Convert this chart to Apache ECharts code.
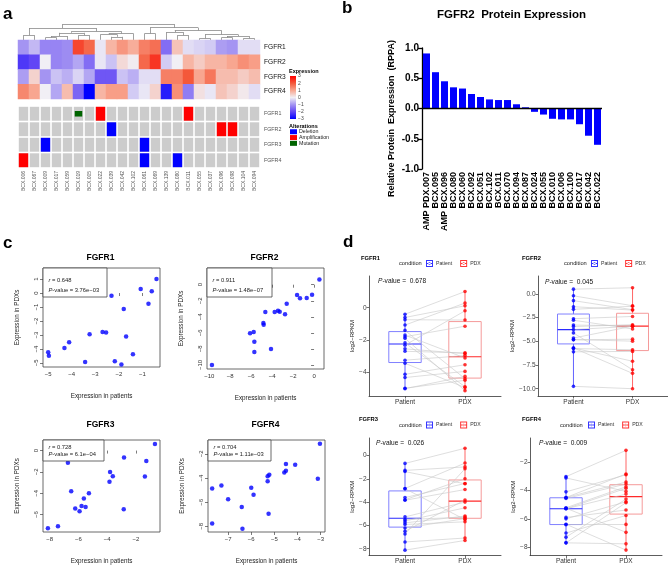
<!DOCTYPE html>
<html><head><meta charset="utf-8">
<script src="https://cdn.jsdelivr.net/npm/echarts@6/dist/echarts.min.js"></script>
<style>html,body{margin:0;padding:0;background:#fff}#c{width:668px;height:565px}</style>
</head><body><div id="c"></div>
<script>
// ---------------- DATA ----------------
// panel a: heatmap
const heatSamples = ['BCX.006','BCX.067','BCX.009','BCX.017','BCX.059','BCX.019','BCX.005','BCX.022','BCX.039','BCX.042','BCX.102','BCX.061','BCX.069','BCX.139','BCX.080','BCX.011','BCX.055','BCX.037','BCX.096','BCX.098','BCX.104','BCX.094'];
const genes = ['FGFR1','FGFR2','FGFR3','FGFR4'];
const exprFGFR1 = [-1.0,-0.6,-1.2,-1.2,-1.1,2.2,1.8,-0.1,0.8,1.2,0.9,1.5,1.7,-1.5,0.6,-0.2,-0.3,-0.4,-0.9,-1.0,-0.2,-0.2];
const exprFGFR2 = [-2.2,-2.0,0.0,-1.2,-1.1,-0.8,-1.5,-0.1,-0.5,0.3,0.05,1.8,2.4,-0.4,0.0,0.8,0.5,0.8,0.8,1.0,1.3,1.1];
const exprFGFR3 = [-0.9,0.4,-1.0,-0.5,-0.7,-0.3,-0.8,-1.8,-1.8,-0.5,-0.7,-0.2,-0.2,1.5,1.5,2.0,1.0,1.6,0.7,0.7,0.5,0.7];
const exprFGFR4 = [1.4,1.0,0.0,-0.8,0.7,-1.6,-3.0,0.8,1.1,1.1,-0.4,-0.1,0.4,-2.6,1.3,-1.3,0.2,-0.1,0.6,0.4,0.1,-0.2];
// alteration codes: 0 none, 1 deletion, 2 amplification, 3 mutation
const altFGFR1 = [0,0,0,0,0,3,0,2,0,0,0,0,0,0,0,2,0,0,0,0,0,0];
const altFGFR2 = [0,0,0,0,0,0,0,0,1,0,0,0,0,0,0,0,0,0,2,2,0,0];
const altFGFR3 = [0,0,1,0,0,0,0,0,0,0,0,1,0,0,0,0,0,0,0,0,0,0];
const altFGFR4 = [2,0,0,0,0,0,0,0,0,0,0,1,0,0,1,0,0,0,0,0,0,0];
const altNames = ['Deletion','Amplification','Mutation'];
const exprTicks = [-3,-2,-1,0,1,2,3];
// column dendrogram merges: [left, right, height]; negative = leaf (1-based), positive = earlier merge
const dendroMerges = [
  [-1,-2,3.0],[-3,-4,1.5],[2,-5,2.5],[-6,-7,3.0],[3,4,4.5],[-9,-10,2.0],[-8,6,3.5],[7,-11,4.0],
  [5,8,5.5],[1,9,7.5],[-12,-13,4.0],[-15,-16,3.0],[-14,12,5.0],[-17,-18,1.0],[-19,-20,1.5],
  [-21,-22,1.0],[15,16,2.5],[14,17,3.5],[13,18,6.0],[11,19,7.7],[10,20,10]
];
// panel b
const barCats = ['AMP PDX.007','BCX.095','AMP BCX.096','BCX.080','BCX.060','BCX.092','BCX.051','BCX.102','BCX.011','BCX.070','BCX.094','BCX.087','BCX.024','BCX.055','BCX.010','BCX.006','BCX.100','BCX.017','BCX.042','BCX.022'];
const barVals = [0.91,0.60,0.45,0.35,0.33,0.24,0.19,0.15,0.14,0.14,0.07,0.02,-0.055,-0.10,-0.17,-0.18,-0.18,-0.26,-0.45,-0.60];
const barTicks = [-1,-0.5,0,0.5,1];
// panels c & d (patient vs PDX expression, paired by index)
const patFGFR1 = [-0.4,-1.07,-0.6,-2.31,-0.74,-1.79,-3.24,-2.69,-2.54,-1.69,-4.11,-4.31,-5.0,-4.97,-3.43,-2.17,-1.4,-1.89];
const pdxFGFR1 = [1.0,0.29,0.12,-0.19,-0.76,-1.14,-2.95,-2.79,-2.83,-3.1,-3.52,-3.93,-4.24,-4.48,-4.93,-4.88,-4.38,-5.12];
const patFGFR2 = [0.51,-1.62,-1.34,-0.7,-0.19,-2.61,-3.76,-3.44,-3.28,-2.77,-4.65,-4.84,-4.81,-6.11,-5.76,-5.7,-5.7,-4.11,-9.75];
const pdxFGFR2 = [0.66,-1.29,-1.7,-1.66,-1.24,-2.37,-3.4,-3.24,-3.36,-3.69,-3.4,-4.77,-4.98,-6.06,-5.89,-7.1,-8.38,-8.0,-10.0];
const patFGFR3 = [-0.68,-2.83,-1.28,-6.73,-3.8,-3.61,-3.84,-1.38,-6.5,-5.27,-5.62,-6.22,-5.78,-5.5,-5.92,-2.85,-7.42,-8.12];
const pdxFGFR3 = [0.62,-0.65,-0.98,-1.14,-2.0,-2.4,-2.92,-2.43,-3.82,-4.0,-4.49,-5.42,-5.2,-5.29,-5.69,-5.5,-7.08,-7.29];
const patFGFR4 = [-3.03,-4.1,-4.5,-3.12,-4.5,-4.57,-5.22,-5.29,-5.29,-6.0,-5.9,-7.29,-7.69,-7.0,-6.41,-5.25,-7.69,-6.38];
const pdxFGFR4 = [-1.18,-2.9,-2.84,-4.07,-3.41,-3.55,-3.74,-3.85,-4.26,-4.8,-5.38,-4.61,-4.86,-5.76,-6.39,-6.95,-7.76,-8.2];
const corrR = ['0.648','0.911','0.728','0.704'];
const corrP = ['3.76e\u221203','1.48e\u221207','6.1e\u221204','1.11e\u221203'];
const pairP = ['0.678','0.045','0.026','0.009'];
const scXTicks = [[-5,-4,-3,-2,-1],[-10,-8,-6,-4,-2,0],[-8,-6,-4,-2],[-7,-6,-5,-4,-3]];
const scYTicks = [[-5,-4,-3,-2,-1,0,1],[-10,-8,-6,-4,-2,0],[-6,-4,-2,0],[-8,-6,-4,-2]];
const bxYTicks = [[-4,-2,0],[-10,-7.5,-5,-2.5,0],[-8,-6,-4,-2,0],[-8,-6,-4,-2]];
const conditions = ['Patient','PDX'];

// ---------------- LAYOUT / HELPERS ----------------
const FF = "'Liberation Sans', Arial, Helvetica, sans-serif";
const heatPalette = ['#0000ff','#6246f5','#a494f2','#f1eff5','#f8a690','#f4583a','#ff0000'];
const M = v => (v < 0 ? '\u2212' + String(-v) : String(v));
const grid = [], xAxis = [], yAxis = [], series = [], graphic = [], legend = [];
function addS(s){ series.push(Object.assign({animation:false, silent:true}, s)); return series.length - 1; }
function T(x, y, text, o){
  o = o || {};
  graphic.push({type:'text', x:x, y:y, silent:true, z:100, style:{text:text, fontFamily:FF, fontSize:o.size||7,
    fontWeight:o.bold?'bold':'normal', fill:o.color||'#000', align:o.align||'left', verticalAlign:'middle',
    rich:{i:{fontStyle:'italic', fontSize:o.size||7, fontFamily:FF, fill:o.color||'#000'}}}});
}
const noAxis = {axisLine:{show:false}, axisTick:{show:false}, splitLine:{show:false}};

// ---- panel a : dendrogram (grid 0)
grid.push({left:18, top:24, width:242, height:16});
xAxis.push(Object.assign({gridIndex:0, type:'value', min:0.5, max:22.5, axisLabel:{show:false}}, noAxis));
yAxis.push(Object.assign({gridIndex:0, type:'value', min:0, max:10, axisLabel:{show:false}}, noAxis));
(function(){
  const nodes = [], segs = [];
  const get = r => r < 0 ? {x:-r, h:0} : nodes[r-1];
  dendroMerges.forEach(([a,b,h]) => {
    const A = get(a), B = get(b);
    segs.push({coords:[[A.x,A.h],[A.x,h]]},{coords:[[B.x,B.h],[B.x,h]]},{coords:[[A.x,h],[B.x,h]]});
    nodes.push({x:(A.x+B.x)/2, h:h});
  });
  addS({type:'lines', coordinateSystem:'cartesian2d', xAxisIndex:0, yAxisIndex:0, polyline:false, data:segs,
    lineStyle:{color:'#8a8a8a', width:0.8, opacity:1}});
})();

// ---- heatmap (grid 1)
grid.push({left:18, top:40, width:242, height:59});
xAxis.push(Object.assign({gridIndex:1, type:'category', data:heatSamples, axisLabel:{show:false}}, noAxis));
yAxis.push(Object.assign({gridIndex:1, type:'category', data:genes, inverse:true, position:'right',
  axisLabel:{fontSize:6.6, color:'#111', margin:4, fontFamily:FF}}, noAxis));
const exprRows = [exprFGFR1, exprFGFR2, exprFGFR3, exprFGFR4];
const heatData = [];
exprRows.forEach((row, r) => row.forEach((v, c) => heatData.push([c, r, v])));
const heatIdx = addS({type:'heatmap', xAxisIndex:1, yAxisIndex:1, data:heatData, itemStyle:{borderWidth:0}});

// ---- alterations (grid 2)
grid.push({left:18, top:106, width:242, height:62});
xAxis.push(Object.assign({gridIndex:2, type:'category', data:heatSamples,
  axisLabel:{rotate:90, fontSize:5, color:'#555', margin:3, interval:0, fontFamily:FF}}, noAxis));
yAxis.push(Object.assign({gridIndex:2, type:'category', data:genes, inverse:true, position:'right',
  axisLabel:{fontSize:5.3, color:'#555', margin:4, fontFamily:FF}}, noAxis));
const altRows = [altFGFR1, altFGFR2, altFGFR3, altFGFR4];
const baseData = [], typeData = {1:[],2:[],3:[]};
altRows.forEach((row, r) => row.forEach((v, c) => { baseData.push([c, r]); if (v) typeData[v].push([c, r]); }));
function cellRender(fw, fh){
  return function(params, api){
    const c = api.coord([api.value(0), api.value(1)]);
    const s = api.size([1, 1]);
    const w = (s[0] - 1.6) * fw, h = (s[1] - 1.6) * fh;
    return {type:'rect', shape:{x:c[0]-w/2, y:c[1]-h/2, width:w, height:h}, style:{fill:api.visual('color')}};
  };
}
addS({type:'custom', name:'none', xAxisIndex:2, yAxisIndex:2, data:baseData, renderItem:cellRender(1,1), itemStyle:{color:'#cccccc'}, encode:{x:0,y:1}});
const altColors = ['#0000ff','#ff0000','#006400'];
altNames.forEach((n, k) => {
  addS({type:'custom', name:n, xAxisIndex:2, yAxisIndex:2, data:typeData[k+1],
    renderItem: k === 2 ? cellRender(0.8, 0.4) : cellRender(1,1), itemStyle:{color:altColors[k]}, encode:{x:0,y:1}});
});
legend.push({left:290, top:129, padding:0, orient:'vertical', data:altNames, icon:'rect', itemWidth:7, itemHeight:5, itemGap:0.3,
  selectedMode:false, textStyle:{fontSize:5.3, color:'#222', fontFamily:FF, padding:[0,0,0,-3], lineHeight:5.5}});

// ---- colour bar (grid 3)
grid.push({left:290, top:76, width:6, height:43});
xAxis.push(Object.assign({gridIndex:3, type:'category', data:[''], axisLabel:{show:false}}, noAxis));
yAxis.push(Object.assign({gridIndex:3, type:'value', min:-3, max:3, interval:1, position:'right',
  axisLabel:{fontSize:5, color:'#444', margin:2, formatter:M, fontFamily:FF}}, noAxis));
addS({type:'custom', xAxisIndex:3, yAxisIndex:3, data:[[0, 0]], renderItem:function(params){
  const cs = params.coordSys;
  const stops = heatPalette.slice().reverse().map((c, i, arr) => ({offset:i/(arr.length-1), color:c}));
  return {type:'rect', shape:{x:cs.x, y:cs.y, width:cs.width, height:cs.height},
    style:{fill:new echarts.graphic.LinearGradient(0,0,0,1,stops)}};
}});

// ---- panel b (grid 4)
grid.push({left:422, top:48, width:180, height:121});
xAxis.push({gridIndex:4, type:'category', data:barCats, axisLine:{show:false, onZero:false}, axisTick:{show:false},
  splitLine:{show:false}, axisLabel:{rotate:90, fontSize:9, fontWeight:'bold', color:'#000', margin:3, interval:0, fontFamily:FF}});
yAxis.push({gridIndex:4, type:'value', min:-1, max:1, interval:0.5, splitLine:{show:false},
  axisLine:{show:true, lineStyle:{color:'#000', width:1.3}}, axisTick:{show:true, length:4, lineStyle:{color:'#000', width:1.3}},
  axisLabel:{fontSize:10, fontWeight:'bold', color:'#000', margin:3, formatter:v => v.toFixed(1), fontFamily:FF},
  name:'Relative Protein  Expression  (RPPA)', nameLocation:'middle', nameGap:26,
  nameTextStyle:{fontSize:9, fontWeight:'bold', color:'#000', fontFamily:FF, padding:[0,20,0,0]}});
addS({type:'bar', xAxisIndex:4, yAxisIndex:4, data:barVals, barCategoryGap:'22%', itemStyle:{color:'#0000ff'},
  markLine:{silent:true, symbol:['none','none'], label:{show:false}, data:[{yAxis:0}], lineStyle:{color:'#000', width:1.3, type:'solid'}}});

// ---- panel c : scatter plots (grids 5-8)
const scBoxes = [[43,268,117,99],[207,268,117,101],[43,440,117,93],[208,440,117,93]];
const scXR = [[-5.22,-0.25],[-10.22,0.95],[-8.46,-0.33],[-7.87,-2.81]];
const scYR = [[-5.29,1.79],[-10.5,2.08],[-7.63,0.99],[-8.46,-0.86]];
const pats = [patFGFR1, patFGFR2, patFGFR3, patFGFR4];
const pdxs = [pdxFGFR1, pdxFGFR2, pdxFGFR3, pdxFGFR4];
scBoxes.forEach((b, k) => {
  const gi = 5 + k;
  grid.push({left:b[0], top:b[1], width:b[2], height:b[3], show:true, borderColor:'#444', borderWidth:0.8, backgroundColor:'rgba(0,0,0,0)'});
  xAxis.push({gridIndex:gi, type:'value', min:scXR[k][0], max:scXR[k][1], axisLine:{show:false}, splitLine:{show:false},
    axisTick:{show:true, length:3, customValues:scXTicks[k], lineStyle:{color:'#444', width:0.7}},
    axisLabel:{customValues:scXTicks[k], formatter:M, fontSize:6, color:'#333', margin:4, fontFamily:FF},
    name:'Expression in patients', nameLocation:'middle', nameGap:26, nameTextStyle:{fontSize:6.3, color:'#222', fontFamily:FF}});
  yAxis.push({gridIndex:gi, type:'value', min:scYR[k][0], max:scYR[k][1], axisLine:{show:false}, splitLine:{show:false},
    axisTick:{show:true, length:3, customValues:scYTicks[k], lineStyle:{color:'#444', width:0.7}},
    axisLabel:{customValues:scYTicks[k], formatter:M, fontSize:6, color:'#333', margin:4, rotate:90, fontFamily:FF},
    name:'Expression in PDXs', nameLocation:'middle', nameGap:23, nameTextStyle:{fontSize:6.3, color:'#222', fontFamily:FF}});
  addS({type:'scatter', xAxisIndex:gi, yAxisIndex:gi, symbol:'circle', symbolSize:4.5, itemStyle:{color:'#0000ff'},
    data:pats[k].map((x, i) => [x, pdxs[k][i]])});
  // annotation box
  const bh = k < 2 ? 29 : 21;
  const bw = [64, 65, 61, 63][k];
  graphic.push({type:'rect', silent:true, z:90, shape:{x:b[0], y:b[1], width:bw, height:bh}, style:{fill:'#fff', stroke:'#444', lineWidth:0.8}});
  const y1 = k < 2 ? b[1] + 12.5 : b[1] + 7, y2 = k < 2 ? b[1] + 22 : b[1] + 14.5;
  T(b[0] + 5.5, y1, '{i|r} = ' + corrR[k], {size:5.8, color:'#222'});
  T(b[0] + 5.5, y2, '{i|P}-value = ' + corrP[k], {size:5.8, color:'#222'});
  T(b[0] + b[2]/2 - 1, k < 2 ? 258 : 425, genes[k], {size:8.5, bold:true, align:'center'});
});

// ---- panel d : paired box plots (grids 9-12)
function quant(s, p){ const h = (s.length - 1) * p, lo = Math.floor(h); return s[lo] + (h - lo) * ((lo + 1 < s.length ? s[lo+1] : s[lo]) - s[lo]); }
function boxStats(arr){
  const s = arr.slice().sort((a,b)=>a-b);
  const q1 = quant(s,0.25), md = quant(s,0.5), q3 = quant(s,0.75), iqr = q3 - q1;
  const lo = Math.min(...s.filter(v => v >= q1 - 1.5*iqr)), hi = Math.max(...s.filter(v => v <= q3 + 1.5*iqr));
  return [lo, q1, md, q3, hi];
}
function boxRender(stroke, medC, whisk){
  return function(params, api){
    const x = api.value(0);
    const a = api.coord([x - 0.27, api.value(4)]), b = api.coord([x + 0.27, api.value(2)]);
    const m = api.coord([x, api.value(3)]), top = api.coord([x, api.value(5)]), bot = api.coord([x, api.value(1)]);
    return {type:'group', children:[
      {type:'line', shape:{x1:m[0], y1:top[1], x2:m[0], y2:a[1]}, style:{stroke:whisk, lineWidth:0.8}},
      {type:'line', shape:{x1:m[0], y1:b[1], x2:m[0], y2:bot[1]}, style:{stroke:whisk, lineWidth:0.8}},
      {type:'rect', shape:{x:a[0], y:a[1], width:b[0]-a[0], height:b[1]-a[1]}, style:{fill:'rgba(255,255,255,0)', stroke:stroke, lineWidth:1}},
      {type:'line', shape:{x1:a[0], y1:m[1], x2:b[0], y2:m[1]}, style:{stroke:medC, lineWidth:1.2}}
    ]};
  };
}
const bxBoxes = [[369,276,132,120],[538,276,130,120],[369,438,132,119],[530,438,132,119]];
const bxYR = [[-5.45,1.96],[-10.77,1.9],[-8.58,1.5],[-8.58,-0.31]];
const bxFmt = [M, v => (v < 0 ? '\u2212' : '') + Math.abs(v).toFixed(1), M, M];
const bxTitleXY = [[361,258],[522,258],[359,419],[522,419]];
const bxCondX = [399,564,399,560];
const bxLegX = [426,591,426,588];
const bxPXY = [[378,281.5],[545,282.5],[376,443.5],[539,443.5]];
const legIcon = 'path://M0,0H10V10H0Z M1.4,1.4V8.6H8.6V1.4Z M0,4.4H10V5.6H0Z M3.3,5A1.7,1.7,0,1,0,6.7,5A1.7,1.7,0,1,0,3.3,5Z';
bxBoxes.forEach((b, k) => {
  const gi = 9 + k;
  grid.push({left:b[0], top:b[1], width:b[2], height:b[3]});
  xAxis.push({gridIndex:gi, type:'value', min:0.4, max:2.6, splitLine:{show:false},
    axisLine:{show:true, onZero:false, lineStyle:{color:'#333', width:0.8}},
    axisTick:{show:true, length:2.5, customValues:[1,2], lineStyle:{color:'#333', width:0.7}},
    axisLabel:{customValues:[1,2], formatter:v => conditions[Math.round(v) - 1], fontSize:6.5, color:'#333', margin:2.5, fontFamily:FF}});
  yAxis.push({gridIndex:gi, type:'value', min:bxYR[k][0], max:bxYR[k][1], splitLine:{show:false},
    axisLine:{show:true, onZero:false, lineStyle:{color:'#333', width:0.8}},
    axisTick:{show:true, length:2.5, customValues:bxYTicks[k], lineStyle:{color:'#333', width:0.7}},
    axisLabel:{customValues:bxYTicks[k], formatter:bxFmt[k], fontSize:6.5, color:'#444', margin:2.5, fontFamily:FF},
    name:'log2\u2212RPKM', nameLocation:'middle', nameGap:k === 1 ? 19 : 13, nameTextStyle:{fontSize:6, color:'#222', fontFamily:FF}});
  const pa = pats[k], pd = pdxs[k];
  addS({type:'custom', name:'boxPatient', xAxisIndex:gi, yAxisIndex:gi, data:[[1].concat(boxStats(pa))],
    renderItem:boxRender('#8080ff', '#2a2aff', '#3a3aff'), encode:{x:0, y:[1,2,3,4,5]}});
  addS({type:'custom', name:'boxPDX', xAxisIndex:gi, yAxisIndex:gi, data:[[2].concat(boxStats(pd))],
    renderItem:boxRender('#f59a9a', '#ff2a2a', '#ff4040'), encode:{x:0, y:[1,2,3,4,5]}});
  addS({type:'lines', coordinateSystem:'cartesian2d', xAxisIndex:gi, yAxisIndex:gi, polyline:false,
    data:pa.map((v, i) => ({coords:[[1, v],[2, pd[i]]]})), lineStyle:{color:'#c8c8c8', width:0.6, opacity:1}});
  addS({type:'scatter', name:'Patient', xAxisIndex:gi, yAxisIndex:gi, symbol:'circle', symbolSize:3.6,
    itemStyle:{color:'#0000ff'}, data:pa.map(v => [1, v])});
  addS({type:'scatter', name:'PDX', xAxisIndex:gi, yAxisIndex:gi, symbol:'circle', symbolSize:3.6,
    itemStyle:{color:'#ff0000'}, data:pd.map(v => [2, v])});
  T(bxTitleXY[k][0], bxTitleXY[k][1], genes[k], {size:5.8, bold:true});
  const cy = k < 2 ? 263.5 : 425;
  T(bxCondX[k], cy, 'condition', {size:5.7, color:'#222'});
  legend.push({left:bxLegX[k], top:cy - 3.5, padding:0, orient:'horizontal', data:conditions, icon:legIcon, itemWidth:7, itemHeight:7,
    itemGap:8, selectedMode:false, textStyle:{fontSize:5.2, color:'#333', fontFamily:FF, padding:[0,0,0,-2]}});
  T(bxPXY[k][0], bxPXY[k][1], '{i|P}-value =  ' + pairP[k], {size:6.6, color:'#111'});
});

// ---- free texts
T(3, 14, 'a', {size:17, bold:true});
T(342, 8, 'b', {size:17, bold:true});
T(3, 243.5, 'c', {size:17, bold:true});
T(343, 242.5, 'd', {size:17, bold:true});
T(511.5, 15, 'FGFR2  Protein Expression', {size:11.5, bold:true, align:'center'});
T(289, 71, 'Expression', {size:5.5, bold:true});
T(289, 126, 'Alterations', {size:5.5, bold:true});

const option = {
  animation:false, backgroundColor:'#ffffff', textStyle:{fontFamily:FF},
  grid:grid, xAxis:xAxis, yAxis:yAxis, series:series, legend:legend,
  visualMap:[{type:'continuous', min:-3, max:3, dimension:2, seriesIndex:heatIdx, show:false,
    inRange:{color:heatPalette}}],
  graphic:{elements:graphic}
};
const chart = echarts.init(document.getElementById('c'), null, {renderer:'canvas', width:668, height:565});
chart.setOption(option);
</script></body></html>
